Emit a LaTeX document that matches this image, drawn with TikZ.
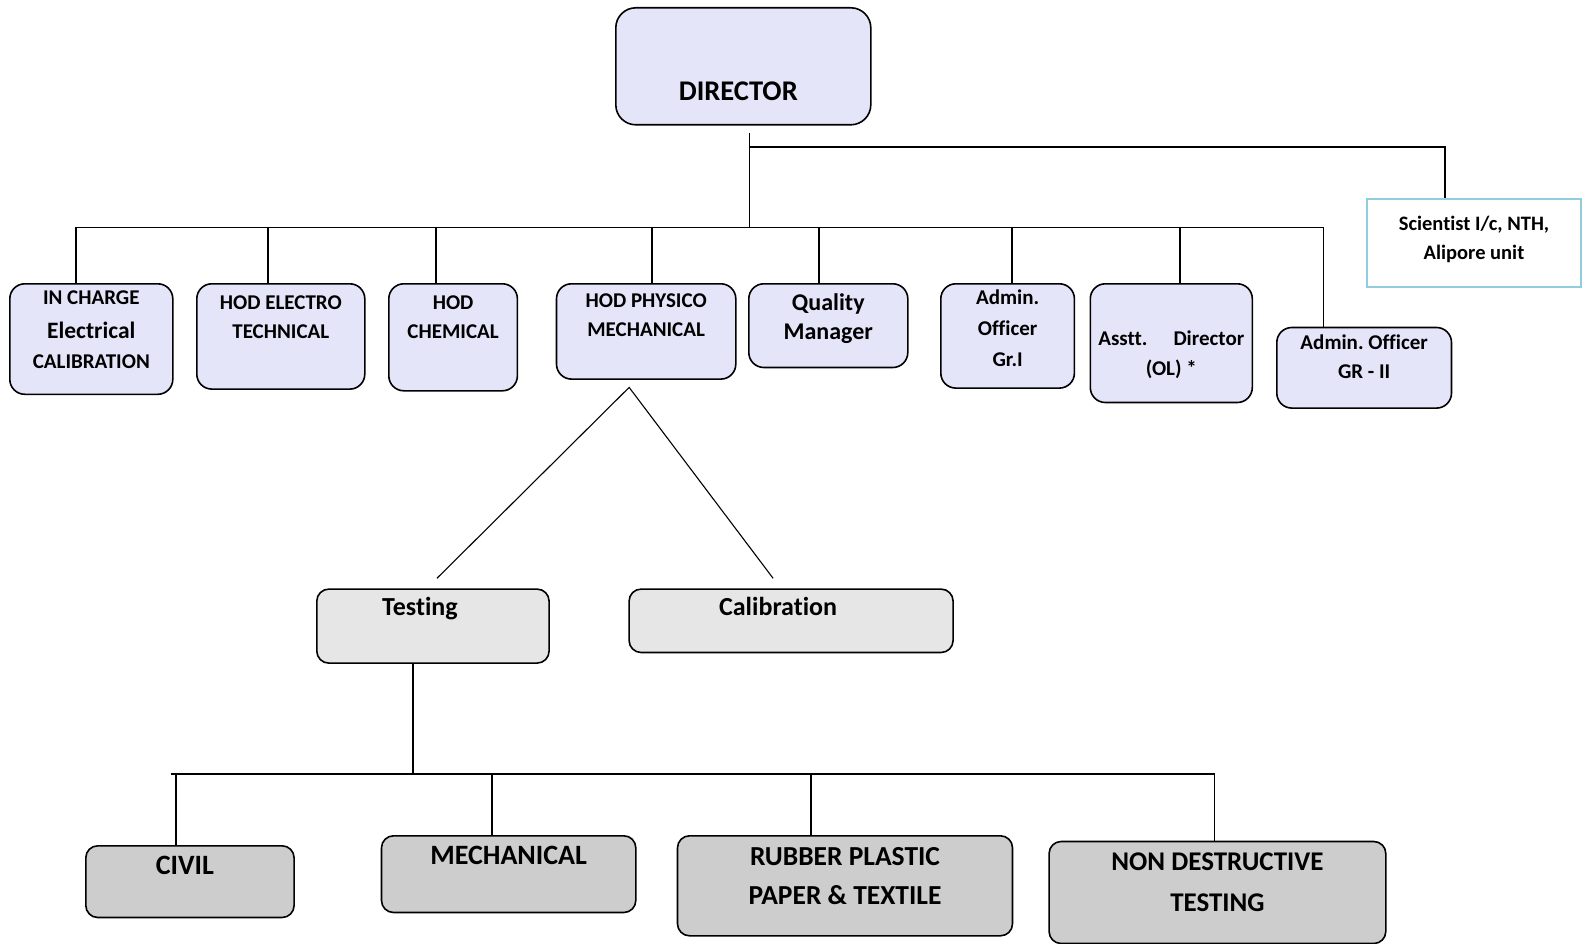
\documentclass[tikz,border=0pt]{standalone}
\usepackage{fontspec}
\setmainfont{Carlito}[Ligatures=CommonOff]
\usepackage{tikz}
\frenchspacing
\definecolor{postfill}{RGB}{229,229,250}
\definecolor{unitfill}{RGB}{230,230,230}
\definecolor{labfill}{RGB}{205,205,205}
\definecolor{nthedge}{RGB}{146,205,221}

\begin{document}
\begin{tikzpicture}[
    x=1pt, y=-1pt,
    post/.style={rectangle, rounded corners=15pt, draw=black, line width=1.6pt, fill=postfill, inner sep=0pt, align=flush center, font=\bfseries\fontsize{21}{29}\selectfont},
    unit/.style={post, rounded corners=12pt, fill=unitfill, font=\bfseries\fontsize{26}{30}\selectfont},
    lab/.style={post, rounded corners=12pt, fill=labfill, font=\bfseries\fontsize{28}{38}\selectfont},
    wing/.style={post, sharp corners, draw=nthedge, line width=2pt, fill=white, font=\bfseries\fontsize{20.5}{28.5}\selectfont},
    box size/.style n args={3}{anchor=north west, text width=#1pt, text height=#2pt, text depth=#3pt},
    link/.style={line width=1.5pt},
    leg/.style={line width=1.1pt}
]
\useasboundingbox (0,0) rectangle (1585,944);

% Top of the chart
\node[post, rounded corners=20pt, font=\bfseries\fontsize{28.5}{34}\selectfont, box size={255}{93}{24}] (director) at (615,7) {\hspace*{-10pt}DIRECTOR};
\node[wing, box size={214}{32}{56}] (nth) at (1366,198) {Scientist I/c, NTH,\\Alipore unit};

% Heads of divisions and officers
\node[post, font=\bfseries\fontsize{21}{30}\selectfont, box size={163}{20.3}{90.2}] (incharge) at (9,283) {IN CHARGE\\[4pt]{\fontsize{23.5}{29}\selectfont Electrical}\\CALIBRATION};
\node[post, box size={168}{25.3}{80}] (electro) at (196,283) {HOD ELECTRO\\TECHNICAL};
\node[post, box size={128.6}{25.3}{81.7}] (chemical) at (388,283) {HOD\\CHEMICAL};
\node[post, box size={179.3}{24}{71.3}] (physico) at (555.7,283) {HOD PHYSICO\\MECHANICAL};
\node[post, font=\bfseries\fontsize{24}{28.3}\selectfont, box size={159}{27}{56.7}] (quality) at (748,283) {Quality\\Manager};
\node[post, font=\bfseries\fontsize{21}{31}\selectfont, box size={133.6}{20.3}{84}] (adminone) at (940,283) {Admin.\\Officer\\Gr.I};
\node[post, font=\bfseries\fontsize{21}{30}\selectfont, box size={162}{62}{56.7}] (asstt) at (1089.5,283) {Asstt.\hspace{26pt}Director\\(OL) *};
\node[post, box size={174.7}{21.6}{59}] (admintwo) at (1276,326.7) {Admin. Officer\\GR - II};

% Physico mechanical wings
\node[unit, box size={232.3}{26.7}{47.3}] (testing) at (316,588.3) {\hspace*{-26pt}Testing};
\node[unit, box size={324}{26.7}{36.7}] (calib) at (628.3,588.3) {\hspace*{-26pt}Calibration};

% Testing laboratories
\node[lab, box size={208.3}{28.3}{43.4}] (civil) at (85,845) {\hspace*{-10pt}CIVIL};
\node[lab, box size={254.3}{28.3}{48.4}] (mech) at (380.7,835) {MECHANICAL};
\node[lab, font=\bfseries\fontsize{27.5}{38.3}\selectfont, box size={335}{30}{70}] (rubber) at (676.7,835) {RUBBER PLASTIC\\PAPER \& TEXTILE};
\node[lab, font=\bfseries\fontsize{27}{41}\selectfont, box size={336.7}{29.3}{72.7}] (ndt) at (1048.3,840.7) {NON DESTRUCTIVE\\TESTING};

% Bends of the lines
\coordinate (dirfoot) at ([xshift=6pt,yshift=-7pt]director.south);
\coordinate (sciturn) at ([xshift=-29pt,yshift=51pt]nth.north);
\coordinate (busW) at (76,227.5);
\coordinate (busE) at (1323.5,227.5);
\coordinate (apex) at ([xshift=-17pt,yshift=-7.5pt]physico.south);
\coordinate (tfoot) at ([xshift=-20pt]testing.south);
\coordinate (lowW) at (171,774);
\coordinate (lowE) at (1214.5,774);

% Lines of the chart
\draw[link] (dirfoot) -- (dirfoot |- busW);
\draw[link] (dirfoot |- sciturn) -- (sciturn) -- (sciturn |- nth.north);
\draw[link] (incharge.north -| busW) -- (busW) -- (busE) -- (busE |- admintwo.north);
\foreach \nd/\x in {electro/268, chemical/436, physico/652, quality/819, adminone/1012, asstt/1180}
  \draw[link] (\nd.north -| \x,0) -- (\x,0 |- busW);

\draw[leg] ([xshift=4pt,yshift=10pt]testing.north) -- (apex) -- ([xshift=-18pt,yshift=10pt]calib.north);
\draw[leg] (tfoot) -- (tfoot |- lowW);
\draw[leg] (lowW) -- (lowE) -- (lowE |- ndt.north);
\foreach \nd/\x in {civil/176, mech/492, rubber/811}
  \draw[leg] (\nd.north -| \x,0) -- (\x,0 |- lowW);

\end{tikzpicture}
\end{document}
